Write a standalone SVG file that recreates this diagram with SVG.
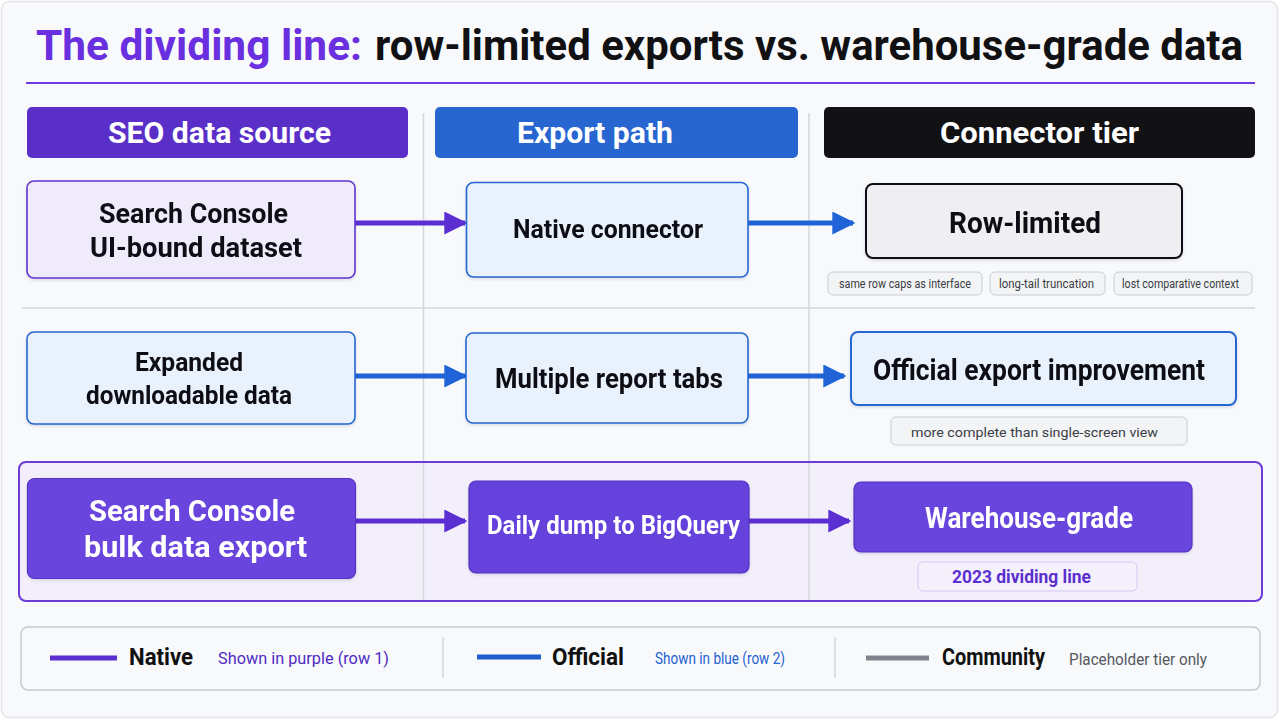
<svg xmlns="http://www.w3.org/2000/svg" width="1280" height="720" viewBox="0 0 1280 720">
<defs>
<style>
text{font-family:Roboto,"Liberation Sans",Arial,sans-serif;font-weight:700}
.hd{fill:#fff;font-size:29px}
.dk{fill:#111114}
.wt{fill:#fff}
.tag{fill:#f3f4f6;stroke:#c9ccd3;stroke-width:1}
.tagt{fill:#3a3d44;font-size:12.5px;font-weight:400}
.lg{font-size:23px;fill:#111}
.sub{font-size:17px;font-weight:400}
.div{stroke:#d3d6dd;stroke-width:1.5}
.pl{stroke:#5b2fd1;stroke-width:5;fill:none}
.bl{stroke:#1f63d6;stroke-width:5;fill:none}
</style>
<marker id="ap" viewBox="0 0 10 10" refX="9" refY="5" markerWidth="4.6" markerHeight="4.6" orient="auto" markerUnits="strokeWidth"><path d="M0,0 L10,5 L0,10 z" fill="#5b2fd1"/></marker>
<marker id="ab" viewBox="0 0 10 10" refX="9" refY="5" markerWidth="4.6" markerHeight="4.6" orient="auto" markerUnits="strokeWidth"><path d="M0,0 L10,5 L0,10 z" fill="#1f63d6"/></marker>
<filter id="sh" x="-10%" y="-10%" width="120%" height="130%"><feDropShadow dx="0" dy="1.5" stdDeviation="1.5" flood-color="#1a1440" flood-opacity="0.12"/></filter>
</defs>

<rect x="1.5" y="1.5" width="1276" height="716" rx="8" fill="#f8f9fb" stroke="#e2e4e9" stroke-width="1.5"/>

<g id="title">
<text x="36" y="60" font-size="42" fill="#6a2fdf" textLength="326" lengthAdjust="spacingAndGlyphs">The dividing line:</text>
<text x="375" y="60" font-size="42" fill="#111114" textLength="868" lengthAdjust="spacingAndGlyphs">row-limited exports vs. warehouse-grade data</text>
<line x1="26" y1="83" x2="1255" y2="83" stroke="#6a3be0" stroke-width="2.2"/>
</g>

<g id="grid">
<line class="div" x1="423.5" y1="113" x2="423.5" y2="600"/>
<line class="div" x1="809" y1="113" x2="809" y2="600"/>
<line class="div" x1="22" y1="308" x2="1255" y2="308"/>
</g>

<g id="header-source">
<rect x="27" y="107" width="381" height="51" rx="5" fill="#5a2fc8"/>
<text class="hd" x="108" y="143" textLength="223" lengthAdjust="spacingAndGlyphs">SEO data source</text>
</g>
<g id="header-export">
<rect x="435" y="107" width="363" height="51" rx="5" fill="#2766d1"/>
<text class="hd" x="517" y="143" textLength="156" lengthAdjust="spacingAndGlyphs">Export path</text>
</g>
<g id="header-tier">
<rect x="824" y="107" width="431" height="51" rx="5" fill="#121214"/>
<text class="hd" x="940" y="143" textLength="199" lengthAdjust="spacingAndGlyphs">Connector tier</text>
</g>

<g id="row3-band">
<rect x="19" y="462" width="1243" height="139" rx="7" fill="#f2effb" stroke="#6a3bd6" stroke-width="2"/>
<line class="div" x1="423.5" y1="463" x2="423.5" y2="600"/>
<line class="div" x1="809" y1="463" x2="809" y2="600"/>
</g>

<g id="connectors">
<line class="pl" x1="355" y1="223" x2="465" y2="223" stroke-width="4" marker-end="url(#ap)"/>
<line class="bl" x1="748" y1="223" x2="853" y2="223" stroke-width="3.5" marker-end="url(#ab)"/>
<line class="bl" x1="355" y1="376" x2="465" y2="376" stroke-width="3.5" marker-end="url(#ab)"/>
<line class="bl" x1="748" y1="376" x2="844" y2="376" stroke-width="3.5" marker-end="url(#ab)"/>
<line class="pl" x1="356" y1="521" x2="465" y2="521" stroke-width="3.5" marker-end="url(#ap)"/>
<line class="pl" x1="749" y1="521" x2="849" y2="521" stroke-width="3.5" marker-end="url(#ap)"/>
</g>

<g id="n-ui-bound" filter="url(#sh)">
<rect x="27" y="181" width="328" height="97" rx="7" fill="#efebfb" stroke="#6236cf" stroke-width="1.6"/>
<text class="dk" x="99" y="223" font-size="27" textLength="189" lengthAdjust="spacingAndGlyphs">Search Console</text>
<text class="dk" x="90" y="257" font-size="27" textLength="212" lengthAdjust="spacingAndGlyphs">UI-bound dataset</text>
</g>
<g id="n-native" filter="url(#sh)">
<rect x="466.5" y="182.5" width="281.5" height="94.5" rx="7" fill="#e9f1fc" stroke="#2566d0" stroke-width="1.6"/>
<text class="dk" x="513" y="238" font-size="26" textLength="190" lengthAdjust="spacingAndGlyphs">Native connector</text>
</g>
<g id="n-row-limited" filter="url(#sh)">
<rect x="866" y="184" width="316" height="74" rx="7" fill="#efeff1" stroke="#111114" stroke-width="2"/>
<text class="dk" x="949" y="233" font-size="29" textLength="152" lengthAdjust="spacingAndGlyphs">Row-limited</text>
</g>
<g id="tags-row1">
<rect class="tag" x="828" y="272" width="154" height="23" rx="5"/>
<text class="tagt" x="839" y="288" textLength="132" lengthAdjust="spacingAndGlyphs">same  row caps as interface</text>
<rect class="tag" x="990" y="272" width="115" height="23" rx="5"/>
<text class="tagt" x="999" y="288" textLength="95" lengthAdjust="spacingAndGlyphs">long-tail truncation</text>
<rect class="tag" x="1114" y="272" width="138" height="23" rx="5"/>
<text class="tagt" x="1122" y="288" textLength="117" lengthAdjust="spacingAndGlyphs">lost comparative context</text>
</g>

<g id="n-expanded" filter="url(#sh)">
<rect x="27" y="332" width="328" height="92" rx="7" fill="#e9f1fc" stroke="#2566d0" stroke-width="1.6"/>
<text class="dk" x="135" y="371" font-size="26" textLength="108" lengthAdjust="spacingAndGlyphs">Expanded</text>
<text class="dk" x="86" y="404" font-size="26" textLength="206" lengthAdjust="spacingAndGlyphs">downloadable data</text>
</g>
<g id="n-tabs" filter="url(#sh)">
<rect x="466" y="333" width="282" height="90" rx="7" fill="#e9f1fc" stroke="#2566d0" stroke-width="1.6"/>
<text class="dk" x="495" y="388" font-size="27" textLength="228" lengthAdjust="spacingAndGlyphs">Multiple report tabs</text>
</g>
<g id="n-official" filter="url(#sh)">
<rect x="851" y="332" width="385" height="73" rx="7" fill="#e9f1fc" stroke="#2566d0" stroke-width="2"/>
<text class="dk" x="873" y="380" font-size="29" textLength="332" lengthAdjust="spacingAndGlyphs">Official export improvement</text>
</g>
<g id="tag-row2">
<rect class="tag" x="891" y="417" width="296" height="28" rx="5"/>
<text class="tagt" x="911" y="437" font-size="15.5" textLength="247" lengthAdjust="spacingAndGlyphs">more complete than single-screen view</text>
</g>

<g id="n-bulk" filter="url(#sh)">
<rect x="27.5" y="478.5" width="328" height="100" rx="7" fill="#6a45dd" stroke="#5430c2" stroke-width="1.2"/>
<text class="wt" x="89" y="521" font-size="29" textLength="206" lengthAdjust="spacingAndGlyphs">Search Console</text>
<text class="wt" x="84" y="557" font-size="29" textLength="223" lengthAdjust="spacingAndGlyphs">bulk data export</text>
</g>
<g id="n-bigquery" filter="url(#sh)">
<rect x="469" y="481" width="280" height="92" rx="7" fill="#6642dc" stroke="#5430c2" stroke-width="1.2"/>
<text class="wt" x="487" y="534" font-size="26" textLength="253" lengthAdjust="spacingAndGlyphs">Daily dump to BigQuery</text>
</g>
<g id="n-warehouse" filter="url(#sh)">
<rect x="854" y="482" width="338" height="70" rx="7" fill="#6844dd" stroke="#5430c2" stroke-width="1.2"/>
<text class="wt" x="925" y="528" font-size="29" textLength="208" lengthAdjust="spacingAndGlyphs">Warehouse-grade</text>
</g>
<g id="tag-row3">
<rect x="918" y="562" width="219" height="29" rx="5" fill="#f4f1fc" stroke="#d3c8f4" stroke-width="1"/>
<text x="952" y="583" font-size="19" fill="#5b2fcf" textLength="139" lengthAdjust="spacingAndGlyphs">2023 dividing line</text>
</g>

<g id="legend">
<rect x="21" y="627" width="1239" height="63" rx="7" fill="#f8f9fb" stroke="#c6c9d0" stroke-width="1.5"/>
<line x1="50" y1="658" x2="117" y2="658" stroke="#5b2fd1" stroke-width="5"/>
<text class="lg" x="129" y="665" textLength="64" lengthAdjust="spacingAndGlyphs">Native</text>
<text class="sub" x="218" y="664" fill="#4f2bc4" textLength="171" lengthAdjust="spacingAndGlyphs">Shown in purple (row 1)</text>
<line class="div" x1="443" y1="637" x2="443" y2="678"/>
<line x1="477" y1="657" x2="541" y2="657" stroke="#1f5fcc" stroke-width="5"/>
<text class="lg" x="552" y="665" textLength="72" lengthAdjust="spacingAndGlyphs">Official</text>
<text class="sub" x="655" y="664" fill="#1f5fd0" font-size="15.5" textLength="130" lengthAdjust="spacingAndGlyphs">Shown in blue (row 2)</text>
<line class="div" x1="835" y1="637" x2="835" y2="678"/>
<line x1="866" y1="658" x2="929" y2="658" stroke="#80848c" stroke-width="5"/>
<text class="lg" x="942" y="665" textLength="103" lengthAdjust="spacingAndGlyphs">Community</text>
<text class="sub" x="1069" y="665" fill="#55585f" textLength="138" lengthAdjust="spacingAndGlyphs">Placeholder tier only</text>
</g>
</svg>
